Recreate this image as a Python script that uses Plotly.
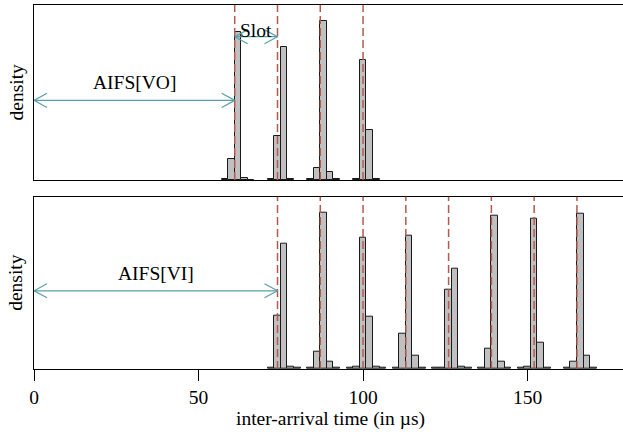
import plotly.graph_objects as go

# ---------------- data ----------------
# histogram bins (width 2 us), bin centres and densities
vo_bin_centers = [58, 60, 62, 64, 66, 72, 74, 76, 78, 84, 86, 88, 90, 92, 98, 100, 102, 104]
vo_density = [0.0004, 0.0150, 0.1055, 0.0014, 0.0003, 0.0007, 0.0314, 0.0948,
              0.0004, 0.0004, 0.0084, 0.1133, 0.0055, 0.0004, 0.0004, 0.0855, 0.0357, 0.0004]

vi_bin_centers = [72, 74, 76, 78, 80, 84, 86, 88, 90, 92, 96, 98, 100, 102, 104, 106, 110, 112, 114, 116,
                  118, 122, 124, 126, 128, 130, 132, 136, 138, 140, 142, 144, 148, 150, 152, 154, 156,
                  162, 164, 166, 168, 170]
vi_density = [0.0003, 0.0184, 0.0431, 0.0007, 0.0003, 0.0003, 0.0061, 0.0540, 0.0024, 0.0003, 0.0003,
              0.0009, 0.0454, 0.0179, 0.0007, 0.0003, 0.0003, 0.0121, 0.0461, 0.0047, 0.0003, 0.0003,
              0.0004, 0.0274, 0.0348, 0.0007, 0.0003, 0.0004, 0.0069, 0.0528, 0.0024, 0.0003, 0.0003,
              0.0007, 0.0518, 0.0092, 0.0003, 0.0004, 0.0026, 0.0537, 0.0047, 0.0003]

vo_slot_lines = [61, 74, 87, 100]
vi_slot_lines = [74, 87, 100, 113, 126, 139, 152, 165]

aifs_vo = 61
aifs_vi = 74
slot = 13

x_ticks = [0, 50, 100, 150]
x_range = [0, 179]

# ---------------- style ----------------
FONT = "Liberation Serif, Times New Roman, serif"
FS = 19.5
BAR_FILL = "#c0c0c0"
BAR_LINE = "#1a1a1a"
DASH_COLOR = "#b4594d"
ARROW_COLOR = "#5a9fa4"

W, H = 623, 437
ML, MR, MT, MB = 34, 0, 5, 68
plot_w = W - ML - MR
plot_h = H - MT - MB
px_per_us = plot_w / (x_range[1] - x_range[0])

top_dom = [(369 - 180) / plot_h, 1.0]
bot_dom = [0.0, (369 - 196.7) / plot_h]

fig = go.Figure()

fig.add_trace(go.Bar(x=vo_bin_centers, y=vo_density, width=2, xaxis="x", yaxis="y",
                     marker=dict(color=BAR_FILL, line=dict(color=BAR_LINE, width=1)),
                     showlegend=False, hoverinfo="x+y"))
fig.add_trace(go.Bar(x=vi_bin_centers, y=vi_density, width=2, xaxis="x2", yaxis="y2",
                     marker=dict(color=BAR_FILL, line=dict(color=BAR_LINE, width=1)),
                     showlegend=False, hoverinfo="x+y"))

shapes = []
for xv in vo_slot_lines:
    shapes.append(dict(type="line", xref="x", yref="y domain", x0=xv, x1=xv, y0=0, y1=1,
                       line=dict(color=DASH_COLOR, width=1.5, dash="8px,4px"), layer="above"))
for xv in vi_slot_lines:
    shapes.append(dict(type="line", xref="x2", yref="y2 domain", x0=xv, x1=xv, y0=0, y1=1,
                       line=dict(color=DASH_COLOR, width=1.5, dash="8px,4px"), layer="above"))


def double_arrow(xa, x0, x1, yref, yf, panel_px):
    dx = 13 / px_per_us
    dy = 7 / panel_px
    common = dict(xref=xa, yref=yref, line=dict(color=ARROW_COLOR, width=1.2), layer="above")
    out = [dict(type="line", x0=x0, x1=x1, y0=yf, y1=yf, **common)]
    for tip, sgn in ((x0, 1), (x1, -1)):
        for s in (1, -1):
            out.append(dict(type="line", x0=tip, x1=tip + sgn * dx, y0=yf, y1=yf + s * dy, **common))
    return out


top_px = 174.3
bot_px = 172.6
shapes += double_arrow("x", 0, aifs_vo, "y domain", 0.455, top_px)
shapes += double_arrow("x", aifs_vo, aifs_vo + slot, "y domain", 0.819, top_px)
shapes += double_arrow("x2", 0, aifs_vi, "y2 domain", 0.4537, bot_px)

txt_font = dict(family=FONT, size=FS, color="black")
annotations = [
    dict(text="AIFS[VO]", x=aifs_vo / 2, y=0.557, xref="x", yref="y domain", showarrow=False, font=txt_font),
    dict(text="Slot", x=aifs_vo + slot / 2, y=0.928, xref="x", yref="y domain", showarrow=False, font=txt_font),
    dict(text="AIFS[VI]", x=aifs_vi / 2, y=0.556, xref="x2", yref="y2 domain", showarrow=False, font=txt_font),
    dict(text="density", x=0, xref="paper", xshift=-18, xanchor="center",
         y=(top_dom[0] + top_dom[1]) / 2, yref="paper", yanchor="middle", textangle=-90,
         showarrow=False, font=txt_font),
    dict(text="density", x=0, xref="paper", xshift=-18, xanchor="center",
         y=(bot_dom[0] + bot_dom[1]) / 2, yref="paper", yanchor="middle", textangle=-90,
         showarrow=False, font=txt_font),
    dict(text="inter-arrival time (in µs)", x=(330.5 - ML) / plot_w,
         xref="paper", xanchor="center", y=0, yref="paper", yanchor="middle", yshift=-50,
         showarrow=False, font=txt_font),
]

axis_common = dict(showgrid=False, zeroline=False, showline=True, linecolor="black", linewidth=1)

fig.update_layout(
    width=W, height=H,
    margin=dict(l=ML, r=MR, t=MT, b=MB, pad=0),
    paper_bgcolor="white", plot_bgcolor="white",
    font=dict(family=FONT, size=FS, color="black"),
    bargap=0,
    xaxis=dict(domain=[0, 1], anchor="y", range=x_range, mirror=True, ticks="",
               showticklabels=False, **axis_common),
    yaxis=dict(domain=top_dom, anchor="x", range=[0, 0.1245], ticks="", showticklabels=False,
               mirror=False, **axis_common),
    xaxis2=dict(domain=[0, 1], anchor="y2", range=x_range, mirror=True, ticks="outside",
                ticklen=11, tickwidth=1, tickcolor="black", tickvals=x_ticks,
                ticktext=[str(t) for t in x_ticks], tickfont=dict(family=FONT, size=FS),
                **axis_common),
    yaxis2=dict(domain=bot_dom, anchor="x2", range=[0, 0.0595], ticks="", showticklabels=False,
                mirror=False, **axis_common),
    shapes=shapes,
    annotations=annotations,
)

fig.write_html("out.html", config={"displayModeBar": False},
               post_script="document.body.style.margin='0';document.body.style.overflow='hidden';")
